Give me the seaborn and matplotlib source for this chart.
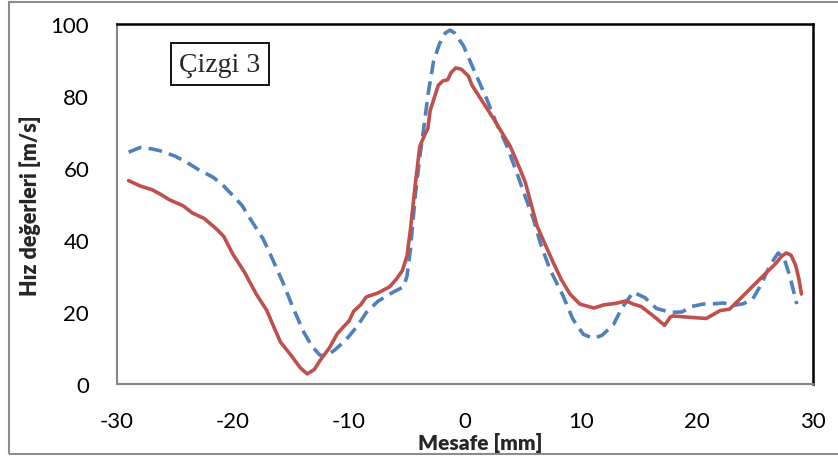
import numpy as np
import pandas as pd
import matplotlib
matplotlib.use("Agg")
import matplotlib.pyplot as plt
from matplotlib.patches import Rectangle
import seaborn as sns

# Measured velocity along line 3 (solid) and the companion profile (dashed)
mesafe_a = [-29, -28, -27, -26.3, -25.5, -24.3, -23.5, -22.5, -21.4, -20.8, -20, -19, -18,
            -17.1, -16.5, -15.9, -15, -14.2, -13.6, -13, -12.5, -11.7, -11, -10.5, -10,
            -9.6, -9, -8.5, -7.5, -6.5, -5.9, -5.4, -5.0, -4.7, -4.3, -3.9, -3.5, -3.2,
            -3.0, -2.6, -2.3, -1.9, -1.5, -1.2, -0.8, -0.3, 0.3, 0.6, 1.5, 2.5, 3.9, 4.7,
            5.2, 6.2, 6.7, 7.6, 8.3, 9.05, 9.9, 11.1, 12, 13, 13.9, 14.5, 15.2, 16.2, 17.2,
            17.7, 17.9, 19.5, 20.8, 21.5, 22.0, 22.8, 23.7, 24.85, 26.0, 26.8, 27.3, 27.7,
            28.1, 28.5, 28.8, 29.0]
hiz_a = [56.5, 55, 54, 52.8, 51.2, 49.5, 47.5, 46, 43, 41, 36, 31, 25,
         20.5, 16, 11.6, 8, 4.5, 2.8, 4, 6.5, 10, 14, 15.8, 17.5,
         20.2, 22, 24.2, 25.3, 27, 29.2, 31.5, 35.6, 43, 55, 66, 69, 71,
         76, 80, 83, 84.2, 84.5, 86.5, 87.8, 87.4, 85.5, 83, 78.5, 73.5, 66, 60,
         56, 44, 40.3, 33.8, 29, 25, 22.2, 21.1, 22, 22.4, 23.1, 22.2, 21.5, 19, 16.3,
         18.6, 18.9, 18.5, 18.2, 19.5, 20.4, 20.8, 23.6, 27.3, 31, 33.5, 35.5, 36.4,
         35.8, 33, 29, 25]

mesafe_b = [-29, -28, -27, -26.3, -25, -24, -23, -21.7, -20.8, -20, -19.2, -18.5, -17.4,
            -16.5, -15.7, -14.8, -13.9, -13.2, -12.5, -12, -11.2, -10.2, -9.3, -8.5, -7.5,
            -6.2, -5.3, -5.0, -4.7, -4.3, -3.9, -3.6, -3.16, -2.7, -2.2, -1.7, -1.29, -0.9,
            -0.14, 0.8, 1.87, 2.7, 3.6, 4.45, 5.2, 5.9, 6.47, 7.3, 8.45, 9.3, 10.2, 11.06,
            11.8, 12.8, 13.5, 14.5, 15.5, 16.5, 17.7, 18.7, 19.5, 20.5, 21.5, 22.3, 23.1,
            24, 24.8, 25.5, 26.3, 27.0, 27.5, 28.0, 28.6]
hiz_b = [64.4, 65.7, 65.3, 64.8, 63.3, 61.6, 59.6, 57.4, 55, 52.3, 49.5, 45.8, 40.3,
         34, 28.2, 21, 14.4, 10.5, 8, 7.8, 9.5, 12.5, 16, 19.9, 23,
         25.5, 27, 30, 37.5, 52, 63, 70, 81, 89.8, 94.5, 97.5, 98.3, 97.5,
         94, 87, 79.2, 72.5, 66.2, 58.8, 52, 45.8, 39.4, 32, 24.5, 18, 13.8, 12.7,
         13.5, 16.5, 21, 25.5, 24, 21, 19.9, 20, 21.5, 22.2, 22.3, 22.5, 21.8,
         22.3, 23.6, 27.5, 33, 36.4, 35, 30, 22.2]

x_ticks = [-30, -20, -10, 0, 10, 20, 30]
y_ticks = [0, 20, 40, 60, 80, 100]

df = pd.concat([
    pd.DataFrame({"Mesafe": mesafe_a, "Hiz": hiz_a, "seri": "a"}),
    pd.DataFrame({"Mesafe": mesafe_b, "Hiz": hiz_b, "seri": "b"}),
], ignore_index=True)

sns.set_theme(style="white")
plt.rcParams["font.family"] = ["Lato", "DejaVu Sans"]
plt.rcParams["axes.unicode_minus"] = False

fig = plt.figure(figsize=(8.38, 4.6), dpi=100)
ax = fig.add_axes([117 / 838, 1 - 385 / 460, 696 / 838, 360 / 460])

sns.lineplot(data=df, x="Mesafe", y="Hiz", hue="seri", style="seri",
             palette={"a": "#C0504D", "b": "#4F81BD"},
             dashes={"a": "", "b": (3.8, 2.0)},
             hue_order=["b", "a"], style_order=["b", "a"],
             sort=False, estimator=None, legend=False, linewidth=2.6, ax=ax)

ax.set_xlim(-30, 30)
ax.set_ylim(0, 100)
ax.set_xticks(x_ticks)
ax.set_yticks(y_ticks)
ax.set_xlabel("")
ax.set_ylabel("")
ax.tick_params(axis="both", which="major", direction="out", length=8, width=1.2,
               color="#868686", labelsize=16, labelcolor="black")
ax.tick_params(axis="y", pad=12)
ax.tick_params(axis="x", pad=11.5)
for s in ("left", "bottom"):
    ax.spines[s].set_color("#868686")
    ax.spines[s].set_linewidth(1.5)
for s in ("top", "right"):
    ax.spines[s].set_color("black")
    ax.spines[s].set_linewidth(1.8)
    ax.spines[s].set_visible(True)

fig.text(30 / 838, 1 - 206 / 460, "Hız değerleri [m/s]", rotation=90,
         ha="center", va="center", fontsize=15.5, fontweight="heavy")
fig.text(480 / 838, 1 - 443 / 460, "Mesafe [mm]", ha="center", va="center",
         fontsize=15, fontweight="heavy")

ax.text(0.148, 0.888, "Çizgi 3", transform=ax.transAxes, ha="center", va="center",
        fontsize=20, family=["Liberation Serif", "DejaVu Serif"],
        bbox=dict(boxstyle="square,pad=0.3", facecolor="white", edgecolor="black",
                  linewidth=1.3))

# outer chart frame
fig.patches.append(Rectangle((9 / 838, 1 - 455 / 460), 1.0, 452 / 460,
                             transform=fig.transFigure, fill=False,
                             edgecolor="#8c8c8c", linewidth=1.5))

fig.savefig("out.png", dpi=100)
